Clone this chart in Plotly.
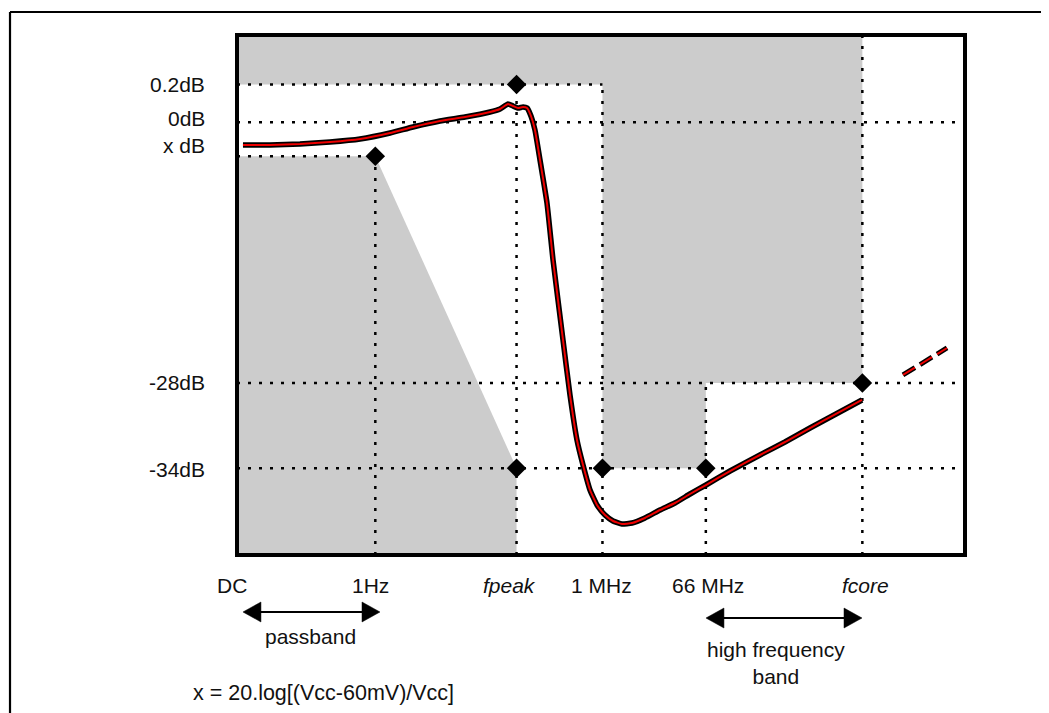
import plotly.graph_objects as go

# ---------------- data (schematic units: x 0..100 across the box, y 0..100 bottom..top) ----------------
freq_labels = ["DC", "1Hz", "fpeak", "1 MHz", "66 MHz", "fcore"]
freq_italic = [False, False, True, False, False, True]
freq_pos = [0.0, 19.0, 38.4, 50.2, 64.4, 85.9]          # vertical reference lines
freq_label_pos = [-0.7, 18.3, 37.4, 50.0, 64.7, 86.3]    # label centres

level_labels = ["0.2dB", "0dB", "x dB", "-28dB", "-34dB"]
level_pos = [90.5, 83.2, 76.7, 33.1, 16.7]               # horizontal reference lines
level_label_pos = [90.4, 84.0, 78.8, 33.1, 16.5]         # label centres

curve_x = [0.82, 4.53, 8.65, 12.77, 16.90, 21.02, 24.18, 27.88, 31.32, 34.75, 36.13, 37.23,
           37.91, 38.60, 39.29, 39.84, 40.38, 40.93, 41.62, 42.58, 43.41, 44.78, 45.74, 46.70,
           47.53, 48.49, 49.45, 50.55, 51.65, 52.88, 54.26, 56.04, 58.10, 60.16, 62.23, 64.42,
           67.72, 71.84, 75.27, 78.71, 82.28, 85.85]
curve_y = [78.85, 78.85, 79.04, 79.42, 80.00, 81.15, 82.31, 83.46, 84.23, 85.19, 85.77, 86.73,
           86.35, 85.96, 86.15, 85.96, 84.42, 81.73, 75.96, 67.69, 56.73, 41.35, 30.77, 22.12,
           17.31, 12.50, 9.62, 7.69, 6.54, 5.96, 6.15, 7.12, 8.65, 10.00, 11.73, 13.46,
           16.15, 19.23, 21.73, 24.42, 27.12, 29.81]
extrap_x = [91.48, 97.53]
extrap_y = [34.62, 39.81]

band_labels = ["passband", "high frequency<br>band"]
passband_span = [0.82, 19.64]
passband_y = -10.96
hfband_span = [64.42, 85.85]
hfband_y = -12.12

footnote = "x = 20.log[(Vcc-60mV)/Vcc]"

# ---------------- helpers ----------------
F = dict(zip(freq_labels, freq_pos))
L = dict(zip(level_labels, level_pos))

GRAY = "#cccccc"
INK = "#111111"
FONT = "Liberation Sans, Arial, sans-serif"
DOT = "3px,8px"
FS = 21

fig = go.Figure()

# gray forbidden regions
fig.add_trace(go.Scatter(
    x=[0, F["fcore"], F["fcore"], F["66 MHz"], F["66 MHz"], F["1 MHz"], F["1 MHz"], 0],
    y=[100, 100, L["-28dB"], L["-28dB"], L["-34dB"], L["-34dB"], L["0.2dB"], L["0.2dB"]],
    fill="toself", fillcolor=GRAY, line=dict(width=0), mode="lines", hoverinfo="skip"))
fig.add_trace(go.Scatter(
    x=[0, F["1Hz"], F["fpeak"], F["fpeak"], 0],
    y=[L["x dB"], L["x dB"], L["-34dB"], 0, 0],
    fill="toself", fillcolor=GRAY, line=dict(width=0), mode="lines", hoverinfo="skip"))

# dotted reference lines
hlines = [("0.2dB", 0, F["1 MHz"]), ("0dB", 0, 100), ("x dB", 0, F["1Hz"]),
          ("-28dB", 0, 100), ("-34dB", 0, 100)]
for name, a, b in hlines:
    fig.add_trace(go.Scatter(x=[a, b], y=[L[name], L[name]], mode="lines",
                             line=dict(color="black", width=2.5, dash=DOT), hoverinfo="skip"))
vlines = [("1Hz", 0, L["x dB"]), ("fpeak", 0, L["0.2dB"]), ("1 MHz", 0, L["0.2dB"]),
          ("66 MHz", 0, L["-28dB"]), ("fcore", 0, 100)]
for name, a, b in vlines:
    fig.add_trace(go.Scatter(x=[F[name], F[name]], y=[a, b], mode="lines",
                             line=dict(color="black", width=2.5, dash=DOT), hoverinfo="skip"))

# response curve (black outline + red core)
fig.add_trace(go.Scatter(x=curve_x, y=curve_y, mode="lines",
                         line=dict(color="black", width=5.5, shape="spline", smoothing=0.4)))
fig.add_trace(go.Scatter(x=curve_x, y=curve_y, mode="lines",
                         line=dict(color="#ee0000", width=2, shape="spline", smoothing=0.4)))
fig.add_trace(go.Scatter(x=extrap_x, y=extrap_y, mode="lines",
                         line=dict(color="black", width=5, dash="14px,6px")))
fig.add_trace(go.Scatter(x=extrap_x, y=extrap_y, mode="lines",
                         line=dict(color="#ee0000", width=2, dash="14px,6px")))

# diamonds at corner points
dx = [F["1Hz"], F["fpeak"], F["fpeak"], F["1 MHz"], F["66 MHz"], F["fcore"]]
dy = [L["x dB"], L["0.2dB"], L["-34dB"], L["-34dB"], L["-34dB"], L["-28dB"]]
fig.add_trace(go.Scatter(x=dx, y=dy, mode="markers",
                         marker=dict(symbol="diamond", size=15, color="black",
                                     line=dict(width=0))))

# double-headed arrows
HEAD_L, HEAD_H = 2.47, 1.92
for (a, b), yv in [(passband_span, passband_y), (hfband_span, hfband_y)]:
    fig.add_trace(go.Scatter(x=[a + HEAD_L * 0.8, b - HEAD_L * 0.8], y=[yv, yv], mode="lines",
                             line=dict(color="black", width=2)))
    fig.add_trace(go.Scatter(x=[a, a + HEAD_L, a + HEAD_L, a], y=[yv, yv + HEAD_H, yv - HEAD_H, yv],
                             fill="toself", fillcolor="black", mode="lines",
                             line=dict(color="black", width=0.5)))
    fig.add_trace(go.Scatter(x=[b, b - HEAD_L, b - HEAD_L, b], y=[yv, yv + HEAD_H, yv - HEAD_H, yv],
                             fill="toself", fillcolor="black", mode="lines",
                             line=dict(color="black", width=0.5)))

# ---------------- text ----------------
ann = []
for lab, yv in zip(level_labels, level_label_pos):
    ann.append(dict(x=-4.1, y=yv, text=lab, xanchor="right", yanchor="middle",
                    showarrow=False, font=dict(size=FS, color=INK, family=FONT)))
for lab, xv, it in zip(freq_labels, freq_label_pos, freq_italic):
    ann.append(dict(x=xv, y=-5.8, text=f"<i>{lab}</i>" if it else lab, xanchor="center",
                    yanchor="middle", showarrow=False, font=dict(size=FS, color=INK, family=FONT)))
ann.append(dict(x=10.1, y=-15.6, text=band_labels[0], xanchor="center", yanchor="middle",
                showarrow=False, font=dict(size=FS, color=INK, family=FONT)))
ann.append(dict(x=74.1, y=-20.7, text=band_labels[1], xanchor="center", yanchor="middle",
                align="center", showarrow=False, font=dict(size=FS, color=INK, family=FONT)))
ann.append(dict(x=11.9, y=-26.6, text=footnote, xanchor="center", yanchor="middle",
                showarrow=False, font=dict(size=21.5, color=INK, family=FONT)))

# ---------------- frames ----------------
shapes = [
    dict(type="rect", xref="x", yref="y", x0=0, x1=100, y0=0, y1=100,
         line=dict(color="black", width=4), layer="above"),
    dict(type="line", xref="x", yref="y", x0=-31.18, x1=-31.18, y0=104.42, y1=-31,
         line=dict(color="black", width=2.2)),
    dict(type="line", xref="x", yref="y", x0=-31.18, x1=112, y0=104.42, y1=104.42,
         line=dict(color="black", width=2.2)),
]

# the page adds an 8px body margin, so the figure is 8px smaller and the ranges
# are set so the box sits at the reference position in the window
fig.update_layout(
    width=1041, height=705, autosize=False,
    margin=dict(l=0, r=0, t=0, b=0),
    paper_bgcolor="white", plot_bgcolor="white",
    showlegend=False,
    xaxis=dict(range=[-31.456, 111.538], visible=False, fixedrange=True),
    yaxis=dict(range=[-30.385, 105.192], visible=False, fixedrange=True),
    annotations=ann, shapes=shapes,
)

fig.write_html("out.html")
